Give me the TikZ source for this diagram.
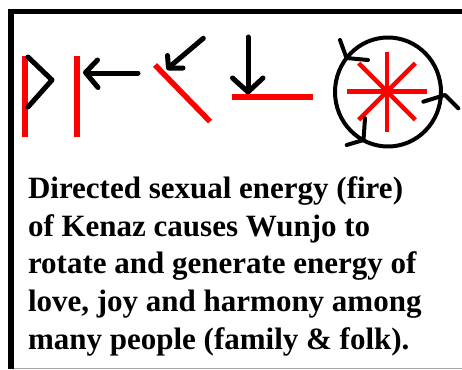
\documentclass[tikz,border=0pt]{standalone}
\usepackage{fontspec}
\setmainfont{Liberation Serif}
\begin{document}
\begin{tikzpicture}[x=1pt,y=-1pt,
  redline/.style={draw={rgb,255:red,255;green,0;blue,0},line width=5.5pt,line cap=butt},
  blackline/.style={draw=black,line width=5pt,line cap=round,line join=round},
  ringline/.style={draw=black,line width=4pt,line cap=round,line join=round},
  txt/.style={anchor=base west,inner sep=0pt,font=\fontsize{31}{38}\selectfont\bfseries}]
\useasboundingbox (0,0) rectangle (462,369);
\fill[white] (0,0) rectangle (462,369);
% frame
\draw[draw={rgb,255:red,170;green,170;blue,170},line width=1pt] (12,368.3) -- (462,368.3);
\draw[black,line width=6pt] (10.8,9) -- (10.8,369);
\draw[black,line width=5pt] (7.8,11.8) -- (462,11.8);
% Thurisaz
\draw[redline,line width=6pt] (25,56) -- (25,137);
\draw[blackline] (28,57) -- (52,80) -- (28,107);
% Isa with arrow
\draw[redline,line width=6pt] (77,56) -- (77,137);
\draw[blackline] (138,73) -- (87,73);
\draw[blackline] (97.5,60) -- (85.5,72.5) -- (98,87.5);
% Kenaz
\draw[redline] (155,65) -- (210,121.5);
\draw[blackline] (203.3,38.3) -- (170,66.5);
\draw[blackline] (167.5,55.5) -- (168.5,68) -- (183,68);
% down arrow to line
\draw[blackline] (248,37) -- (248,91);
\draw[blackline] (232.5,78) -- (248,92) -- (263,78);
\draw[redline,line width=6pt] (232,97) -- (313,97);
% Wunjo wheel
\foreach \a in {0,45,...,315}
  \draw[redline,line width=4.5pt] (387,91.5) -- ++(\a:40);
\draw[ringline] (388,92) ellipse [x radius=53,y radius=54.5];
\draw[ringline] (340,40) -- (346.5,58) -- (368,60);
\draw[ringline] (423.3,101.7) -- (445,95) -- (458.3,108.3);
\draw[ringline] (365,118.3) -- (363.5,140) -- (346.7,145);
% text
\node[txt] (l1) at (27.8,198) {Directed sexual energy (fire)};
\node[txt] (l2) at (27.8,236) {of Kenaz causes Wunjo to};
\node[txt] (l3) at (27.8,273.7) {rotate and generate energy of};
\node[txt] (l4) at (27.8,311.4) {love, joy and harmony among};
\node[txt] (l5) at (27.8,349) {many people (family \& folk).};
\end{tikzpicture}
\end{document}
